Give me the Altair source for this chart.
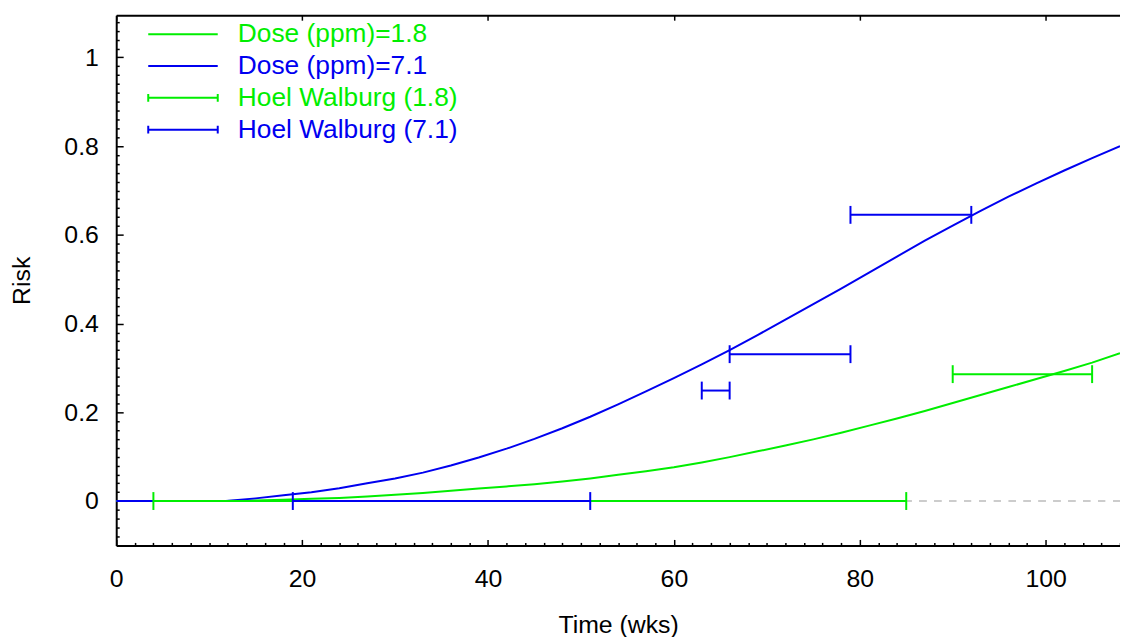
import altair as alt
import pandas as pd

# ---------------- data ----------------
series_names = ["Dose (ppm)=1.8", "Dose (ppm)=7.1", "Hoel Walburg (1.8)", "Hoel Walburg (7.1)"]
series_colors = ["#00ee00", "#0000f0", "#00ee00", "#0000f0"]

t_wks = [0, 6, 11.8, 15, 18, 21, 24, 27, 30, 33, 36, 39, 42, 45, 48, 51, 54, 57, 60,
         63, 66, 69, 72, 75, 78, 81, 84, 87, 90, 93, 96, 99, 102, 105, 108]
risk_18 = [0, 0, 0, 0.001, 0.003, 0.005, 0.007, 0.010, 0.014, 0.018, 0.023, 0.028, 0.033,
           0.038, 0.044, 0.051, 0.059, 0.067, 0.076, 0.087, 0.099, 0.112, 0.125, 0.139,
           0.154, 0.170, 0.186, 0.203, 0.221, 0.239, 0.257, 0.275, 0.293, 0.312, 0.333]
risk_71 = [0, 0, 0, 0.006, 0.013, 0.020, 0.029, 0.040, 0.051, 0.064, 0.080, 0.098, 0.118,
           0.140, 0.164, 0.190, 0.218, 0.247, 0.277, 0.308, 0.340, 0.374, 0.409, 0.444,
           0.479, 0.515, 0.551, 0.587, 0.621, 0.654, 0.686, 0.716, 0.745, 0.773, 0.800]

hw_series = ["Hoel Walburg (1.8)", "Hoel Walburg (1.8)", "Hoel Walburg (7.1)",
             "Hoel Walburg (7.1)", "Hoel Walburg (7.1)", "Hoel Walburg (7.1)"]
hw_risk = [0, 0.286, 0, 0.249, 0.331, 0.645]
hw_lo = [4, 90, 19, 63, 66, 79]
hw_hi = [85, 105, 51, 66, 79, 92]

x_ticks = list(range(0, 109, 2))
x_major = list(range(0, 101, 20))
y_ticks = [round(-0.1 + 0.02 * i, 2) for i in range(60)]

curves = pd.DataFrame({
    "t": t_wks * 2,
    "risk": risk_18 + risk_71,
    "series": [series_names[0]] * len(t_wks) + [series_names[1]] * len(t_wks),
})
bars = pd.DataFrame({"series": hw_series, "risk": hw_risk, "lo": hw_lo, "hi": hw_hi})
legend_df = pd.DataFrame({"series": series_names})

GREEN, BLUE = series_colors[0], series_colors[1]
FONT = "Liberation Sans"
W, H = 1011, 534

xs = alt.Scale(domain=[0, 108], nice=False, zero=False)
ys = alt.Scale(domain=[-0.1, 1.095], nice=False, zero=False)
cs = alt.Scale(domain=series_names, range=series_colors)

line_path = "M-3.5,0H3.5"
bar_path = "M-3.5,0H3.5M-3.5,-0.4V0.4M3.5,-0.4V0.4"
ss = alt.Scale(domain=series_names, range=[line_path, line_path, bar_path, bar_path])

is_green = "indexof(datum.series, '1.8') >= 0"
series_color = alt.condition(is_green, alt.value(GREEN), alt.value(BLUE))

x_bottom = alt.Axis(
    orient="bottom", values=x_ticks, title="Time (wks)",
    tickSize=alt.ExprRef("datum.value % 20 == 0 ? -6 : -3"),
    labelExpr="datum.value % 20 == 0 ? datum.label : ''",
    labelPadding=27, labelFontSize=25, labelFont=FONT, labelColor="black",
    titleFontSize=25, titleFont=FONT, titleFontWeight="normal", titleColor="black",
    titlePadding=19, domainColor="black", domainWidth=2, tickColor="black",
    tickWidth=1.5, grid=False, labelOverlap=False, labelFlush=False,
)
y_left = alt.Axis(
    orient="left", values=y_ticks, title="Risk",
    tickSize=alt.ExprRef("abs(datum.value*5 - round(datum.value*5)) < 0.000001 ? -7 : -3"),
    labelExpr="abs(datum.value*5 - round(datum.value*5)) < 0.000001 ? format(datum.value, '~g') : ''",
    labelPadding=25, labelFontSize=25, labelFont=FONT, labelColor="black",
    titleFontSize=25, titleFont=FONT, titleFontWeight="normal", titleColor="black",
    titlePadding=30, domainColor="black", domainWidth=2, tickColor="black",
    tickWidth=1.5, grid=False, labelOverlap=False, labelFlush=False,
)
x_top = alt.Axis(
    orient="top", values=x_major, title=None, labels=False,
    tickSize=alt.ExprRef("-5"), domainColor="black", domainWidth=2,
    tickColor="black", tickWidth=1.5, grid=False,
)

zero_line = alt.Chart(legend_df).mark_rule(
    color="#cccccc", strokeWidth=2, strokeDash=[7, 8]
).encode(y=alt.YDatum(0, scale=ys, axis=None))

curve_layer = alt.Chart(curves).mark_line(strokeWidth=2).encode(
    x=alt.X("t:Q", scale=xs, axis=x_bottom),
    y=alt.Y("risk:Q", scale=ys, axis=y_left),
    detail="series:N",
    color=series_color,
)

bar_layer = alt.Chart(bars).mark_rule(strokeWidth=2).encode(
    x=alt.X("lo:Q", scale=xs, axis=x_top),
    x2="hi:Q",
    y=alt.Y("risk:Q", scale=ys, axis=None),
    color=series_color,
)

cap_layer = alt.Chart(bars).transform_fold(["lo", "hi"], as_=["end", "tx"]).mark_tick(
    orient="vertical", size=18, thickness=2, opacity=1
).encode(
    x=alt.X("tx:Q", scale=xs, axis=None),
    y=alt.Y("risk:Q", scale=ys, axis=None),
    color=series_color,
)

leg = alt.Legend(
    orient="none", legendX=54, legendY=6, title=None,
    symbolSize=400, symbolStrokeWidth=2, symbolFillColor="transparent",
    symbolOpacity=1,
    labelFont=FONT, labelFontSize=26.5, labelOffset=42, rowPadding=5,
    labelColor=alt.ExprRef("indexof(datum.label, '1.8') >= 0 ? '%s' : '%s'" % (GREEN, BLUE)),
    labelLimit=400,
)
legend_layer = alt.Chart(legend_df).transform_filter("false").mark_point(
    filled=False, strokeWidth=2, opacity=1
).encode(
    color=alt.Color("series:N", scale=cs, legend=leg),
    shape=alt.Shape("series:N", scale=ss, legend=leg),
)

chart = alt.layer(zero_line, curve_layer, bar_layer, cap_layer, legend_layer).resolve_axis(
    x="independent", y="independent"
).properties(
    width=W, height=H,
    autosize=alt.AutoSizeParams(type="none"),
    padding={"left": 109, "top": 5, "right": 0, "bottom": 90},
).configure(font=FONT).configure_view(stroke=None)

chart.save("out.html", embed_options={"renderer": "svg", "actions": False})
